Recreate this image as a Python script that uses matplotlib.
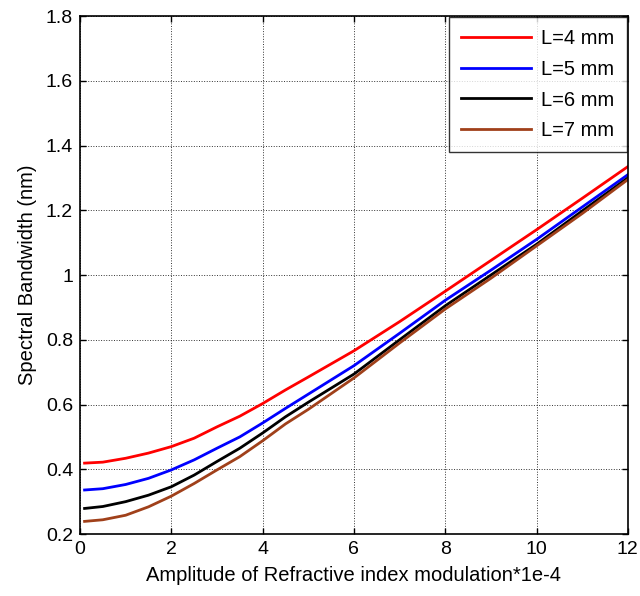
import matplotlib
matplotlib.use("Agg")
import matplotlib.pyplot as plt

plt.rcParams['font.family'] = ['Liberation Sans', 'DejaVu Sans']

x = [0.1, 0.5, 1, 1.5, 2, 2.5, 3, 3.5, 4, 4.5, 5, 6, 7, 8, 9, 10, 11, 12]
bw_4mm = [0.419, 0.422, 0.434, 0.450, 0.470, 0.496, 0.531, 0.564, 0.603, 0.645, 0.685,
          0.766, 0.856, 0.950, 1.045, 1.140, 1.237, 1.335]
bw_5mm = [0.336, 0.340, 0.353, 0.372, 0.398, 0.429, 0.465, 0.500, 0.543, 0.588, 0.632,
          0.720, 0.820, 0.922, 1.015, 1.110, 1.210, 1.310]
bw_6mm = [0.279, 0.285, 0.300, 0.320, 0.346, 0.382, 0.424, 0.465, 0.512, 0.562, 0.607,
          0.694, 0.800, 0.905, 1.000, 1.095, 1.198, 1.300]
bw_7mm = [0.239, 0.244, 0.258, 0.284, 0.317, 0.356, 0.398, 0.439, 0.488, 0.540, 0.585,
          0.682, 0.790, 0.895, 0.990, 1.090, 1.190, 1.295]
labels = ['L=4 mm', 'L=5 mm', 'L=6 mm', 'L=7 mm']
colors = ['#ff0000', '#0000ff', '#000000', '#a0401a']

xticks = [0, 2, 4, 6, 8, 10, 12]
yticks = [0.2, 0.4, 0.6, 0.8, 1.0, 1.2, 1.4, 1.6, 1.8]
yticklabels = ['0.2', '0.4', '0.6', '0.8', '1', '1.2', '1.4', '1.6', '1.8']

fig = plt.figure(figsize=(6.4, 5.96), dpi=100)
ax = fig.add_axes([0.125, 0.104, 0.856, 0.869])

for ys, lab, c in zip([bw_4mm, bw_5mm, bw_6mm, bw_7mm], labels, colors):
    ax.plot(x, ys, color=c, lw=2.0, label=lab)

ax.set_xlim(0, 12)
ax.set_ylim(0.2, 1.8)
ax.set_xticks(xticks)
ax.set_yticks(yticks)
ax.set_yticklabels(yticklabels)
ax.tick_params(direction='in', top=True, right=True, labelsize=14, length=4, width=1, pad=5)
ax.grid(True, color='black', linestyle=':', linewidth=0.7, alpha=0.8)
for s in ax.spines.values():
    s.set_linewidth(1.2)

ax.set_xlabel('Amplitude of Refractive index modulation*1e-4', fontsize=14.5, labelpad=6)
ax.set_ylabel('Spectral Bandwidth (nm)', fontsize=14.5, labelpad=6)

leg = ax.legend(loc='upper right', fontsize=14.5, frameon=True, fancybox=False,
                edgecolor='black', borderaxespad=0.05, handlelength=3.5,
                handletextpad=0.5, labelspacing=0.58, borderpad=0.6)
leg.get_frame().set_linewidth(1.0)

fig.savefig('out.png', dpi=100)
